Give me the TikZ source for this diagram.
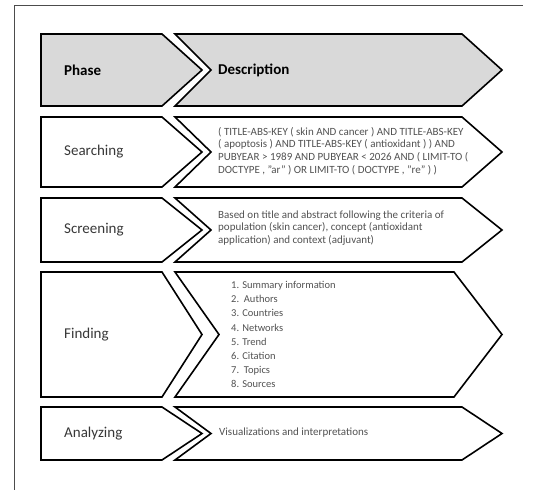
\documentclass[tikz,border=0pt]{standalone}
\usepackage{fontspec}
\setmainfont{Carlito}
\usepackage{tikz}

% one row of the table: phase chevron and description chevron
% #1 top, #2 bottom, #3 depth of the description point, #4 fill
\newcommand{\phaserow}[4]{%
  \draw[box, fill=#4] (41,#1) -- (162,#1) -- (202,{(#1+#2)/2}) -- (162,#2) -- (41,#2) -- cycle;
  \draw[box, fill=#4] (175,#1) -- (502-#3,#1) -- (502,{(#1+#2)/2}) -- (502-#3,#2) -- (175,#2)
    -- (171+#3,{(#1+#2)/2}) -- cycle;
}

\begin{document}
\begin{tikzpicture}
	[x=1pt, y=-1pt,
	 box/.style = {draw, line width=1.6pt, line join=miter},
	 head/.style = {anchor=west, inner sep=0pt, font=\fontsize{15}{18}\selectfont\bfseries},
	 lbl/.style = {anchor=west, inner sep=0pt, text=black!78, font=\fontsize{15}{18}\selectfont},
	 txt/.style = {anchor=west, inner sep=0pt, align=left, text=black!68, font=\fontsize{11}{12.8}\selectfont}]
	\useasboundingbox (0,0) rectangle (533,490);
	\draw[black!70, line width=0.9pt] (14,490) -- (14,5.5) -- (523,5.5);
	\phaserow{34}{106}{40}{black!15}
	\phaserow{117}{187}{40}{white}
	\phaserow{198}{262}{40}{white}
	\phaserow{272}{397}{48}{white}
	\phaserow{407}{460}{40}{white}
	\node[head] (phase) at (64,70) {Phase};
	\node[head] (desc) at (218,70) {Description};
	\node[lbl] (searching) at (64,152) {Searching};
	\node[txt] (query) at (218,151) {( TITLE-ABS-KEY ( skin AND cancer ) AND TITLE-ABS-KEY\\
		( apoptosis ) AND TITLE-ABS-KEY ( antioxidant ) ) AND\\
		PUBYEAR > 1989 AND PUBYEAR < 2026 AND ( LIMIT-TO (\\
		DOCTYPE , "ar" ) OR LIMIT-TO ( DOCTYPE , "re" ) )};
	\node[lbl] (screening) at (64,230) {Screening};
	\node[txt] (criteria) at (218,228) {Based on title and abstract following the criteria of\\
		population (skin cancer), concept (antioxidant\\
		application) and context (adjuvant)};
	\node[lbl] (finding) at (64,335) {Finding};
	\node[txt, font=\fontsize{10.5}{14.1}\selectfont] (results) at (231,334.5) {1. Summary information\\
		2.\ \ Authors\\ 3. Countries\\ 4. Networks\\ 5. Trend\\ 6. Citation\\ 7.\ \ Topics\\ 8. Sources};
	\node[lbl] (analyzing) at (64,434) {Analyzing};
	\node[txt] (visual) at (219,433) {Visualizations and interpretations};
\end{tikzpicture}
\end{document}
